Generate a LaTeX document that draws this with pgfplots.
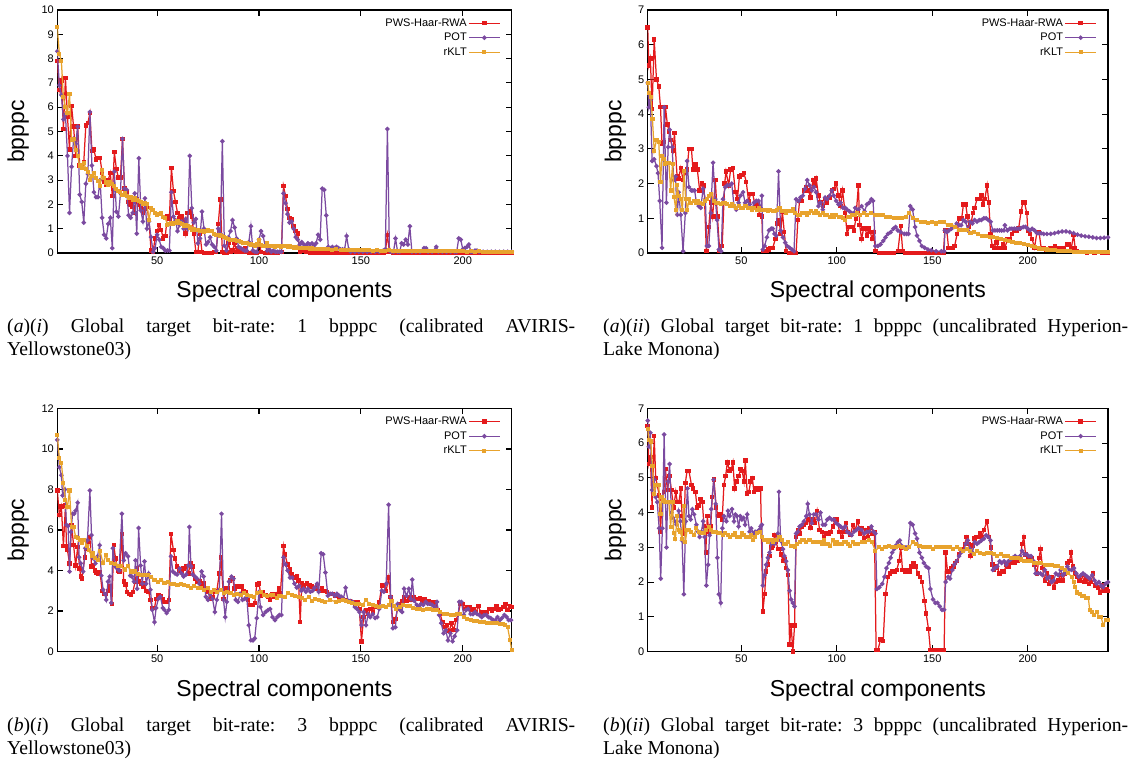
\documentclass[border=0pt]{standalone}
\usepackage{fontspec}
\setmainfont{Liberation Serif}
\setsansfont{Liberation Sans}
\usepackage{pgfplots}
\pgfplotsset{compat=1.18}
\frenchspacing
\definecolor{cred}{RGB}{228,26,28}
\definecolor{cpur}{RGB}{123,74,160}
\definecolor{corg}{RGB}{232,163,45}
\pgfplotsset{
  panel/.style={
    scale only axis, anchor=south west, ymin=0,
    tick align=inside, major tick length=6pt,
    xtick={50,100,150,200},
    axis line style={line width=1.2pt},
    major tick style={line width=1.1pt,black},
    tick label style={font=\sffamily\fontsize{11}{13}\selectfont},
    /pgf/number format/assume math mode=true,
    label style={font=\sffamily\fontsize{23}{26}\selectfont},
    xlabel={Spectral components}, ylabel={bpppc},
    x label style={at={(axis description cs:0.5,-0.185)},anchor=base},
    clip mode=individual,
    legend style={draw=none, fill=none, font=\sffamily\fontsize{11}{13}\selectfont,
      at={(rel axis cs:1,1)}, anchor=north east, xshift=-9pt, yshift=-4.5pt,
      inner sep=2pt, row sep=1.5pt,
      nodes={inner sep=1.5pt, text height=8pt, text depth=2pt}},
    legend plot pos=right, legend cell align=right,
    legend image code/.code={\draw[mark repeat=2,mark phase=2,##1] plot coordinates {(0pt,0pt) (15.5pt,0pt) (31pt,0pt)};},
  },
  pws/.style={cred, line width=1.25pt, mark=square*, mark size=1.6pt},
  pot/.style={cpur, line width=1.25pt, mark=*, mark size=1.6pt},
  rklt/.style={corg, line width=1.25pt, mark=square*, mark size=1.4pt},
}
\begin{document}
\begin{tikzpicture}
\useasboundingbox (0,0) rectangle (1133pt,771pt);
% ---------------- (a)(i)
\begin{axis}[panel, at={(57.3pt,518pt)}, width=454.4pt, height=243pt,
  xmin=1, xmax=224, ymax=10, ytick={0,1,...,10},
  y label style={at={(axis description cs:-0.086,0.5)},anchor=center}]
\addplot[pws] coordinates {(1,7.9)(2,6.7)(3,7.1)(4,5.1)(5,7.2)(6,5.6)(7,4.25)(8,6.05)(9,5.2)(10,4.0)(11,5.2)(12,3.6)(13,3.6)(14,3.75)(15,5.25)(16,5.35)(17,5.75)(18,4.2)(19,4.25)(20,3.85)(21,3.9)(22,3.9)(23,3.3)(24,2.95)(25,2.8)(26,3.0)(27,3.3)(28,2.35)(29,4.15)(30,3.45)(31,3.1)(32,3.1)(33,4.7)(34,2.65)(35,2.5)(36,2.1)(37,2.0)(38,1.9)(39,1.65)(40,2.2)(41,2.0)(42,1.85)(43,1.65)(44,1.8)(45,1.9)(46,1.35)(47,0.1)(48,0.05)(49,0.6)(50,0.9)(51,1.15)(52,0.95)(53,0.6)(54,0.7)(55,1.5)(56,1.4)(57,3.5)(58,2.55)(59,2.1)(60,1.65)(61,1.45)(62,1.5)(63,1.3)(64,0.8)(65,1.65)(66,1.7)(67,1.5)(68,0.8)(69,0.05)(70,0.05)(71,0.8)(72,0.05)(73,0)(74,0)(75,0)(76,0)(77,0)(78,0.05)(79,0.05)(80,1.2)(81,2.2)(82,0.05)(83,0)(84,0)(85,0.4)(86,0.05)(87,0.1)(88,0.4)(89,0.05)(90,0.2)(91,0.05)(92,0.05)(93,0.2)(94,0.05)(95,0)(96,0)(97,0.05)(98,0)(99,0)(100,0.45)(101,0.05)(103,0)(105,0)(107,0)(109,0)(111,0.05)(112,2.75)(113,2.35)(114,1.8)(115,1.45)(116,1.4)(117,1.1)(118,0.9)(119,0.8)(120,0.05)(121,0.2)(122,0.1)(123,0.05)(125,0)(127,0)(129,0)(131,0)(133,0)(135,0)(137,0)(139,0)(141,0)(143,0)(145,0)(147,0)(149,0)(151,0)(153,0)(155,0)(157,0)(159,0)(161,0)(162,0.05)(163,0.75)(164,0.05)(166,0)(168,0)(170,0)(172,0)(174,0)(176,0)(178,0)(180,0)(182,0)(184,0)(186,0)(188,0)(190,0)(192,0)(194,0)(196,0)(198,0)(200,0)(202,0)(204,0)(206,0)(208,0)(210,0)(212,0)(214,0)(216,0)(218,0)(220,0)(222,0)(224,0)};
\addlegendentry{PWS-Haar-RWA}
\addplot[pot] coordinates {(1,8.3)(2,6.9)(3,6.5)(4,5.5)(5,5.7)(6,4.0)(7,1.65)(8,3.55)(9,4.7)(10,4.5)(11,5.2)(12,2.4)(13,2.1)(14,1.25)(15,2.85)(16,3.25)(17,5.8)(18,3.6)(19,2.5)(20,2.3)(21,2.3)(22,3.0)(23,1.45)(24,0.75)(25,0.6)(26,1.2)(27,1.45)(28,0.2)(29,3.35)(30,1.7)(31,1.5)(32,2.45)(33,4.7)(34,2.65)(35,2.6)(36,1.55)(37,1.45)(38,1.65)(39,2.45)(40,0.8)(41,3.9)(42,1.75)(43,1.3)(44,2.25)(45,1.0)(46,1.3)(47,0.65)(48,0.05)(49,0.2)(50,0.75)(51,0.55)(52,0.25)(53,0.2)(54,0.1)(55,0.1)(56,0.1)(57,2.5)(58,1.5)(59,1.35)(60,0.9)(61,1.15)(62,1.3)(63,1.0)(64,1.4)(65,1.0)(66,4.0)(67,1.85)(68,1.25)(69,1.4)(70,0.4)(71,0.6)(72,1.7)(73,1.0)(74,0.35)(75,0.45)(76,0.65)(77,0.35)(78,0.25)(79,0.1)(80,1.0)(81,0.8)(82,4.6)(83,0.3)(84,0.1)(85,0.65)(86,0.9)(87,1.35)(88,1.05)(89,0.6)(90,0.25)(91,0.2)(92,0.15)(93,0.1)(94,0.1)(95,0.45)(96,1.1)(97,0.1)(98,0.05)(99,0.05)(100,0.55)(101,0.9)(102,0.7)(103,0.3)(104,0.1)(105,0.15)(106,0.05)(107,0.1)(108,0.05)(109,0.05)(110,0.05)(111,0.05)(112,2.45)(113,2.05)(114,1.6)(115,1.25)(116,1.3)(117,1.0)(118,0.65)(119,0.55)(120,0.35)(121,0.45)(122,0.35)(123,0.3)(124,0.4)(125,0.35)(126,0.4)(127,0.3)(128,0.4)(129,0.75)(130,0.55)(131,2.65)(132,2.6)(133,1.55)(134,0.25)(135,0.2)(136,0.25)(137,0.2)(138,0.25)(139,0.2)(140,0.15)(141,0.15)(142,0.15)(143,0.7)(144,0.15)(145,0.05)(147,0.05)(149,0.05)(151,0.05)(153,0.05)(155,0.05)(157,0.05)(159,0.05)(161,0.1)(162,0.15)(163,5.1)(164,0.1)(165,0.05)(166,0.05)(167,0.6)(168,0.05)(169,0.05)(170,0.4)(171,0.35)(172,0.55)(173,0.35)(174,1.1)(175,0.05)(177,0.05)(179,0.05)(181,0.2)(182,0.2)(183,0.05)(185,0.05)(187,0.25)(188,0.05)(190,0.05)(192,0.05)(194,0.05)(196,0.05)(197,0.05)(198,0.6)(199,0.55)(200,0.15)(201,0.2)(202,0.25)(203,0.35)(204,0.05)(205,0.05)(206,0.1)(207,0.1)(208,0.05)(210,0.05)(212,0.05)(214,0.05)(216,0.05)(218,0.05)(220,0.05)(222,0.05)(224,0.05)};
\addlegendentry{POT}
\addplot[rklt] coordinates {(1,9.3)(2,8.2)(3,7.9)(4,6.4)(5,6.0)(6,5.75)(7,6.55)(8,4.65)(9,4.7)(10,4.25)(11,4.0)(12,3.6)(13,3.5)(14,3.7)(15,3.45)(16,3.35)(17,3.0)(18,3.15)(19,3.3)(20,3.1)(21,2.95)(22,2.75)(23,3.4)(24,3.1)(25,2.9)(26,2.8)(27,2.9)(28,2.85)(29,2.75)(30,2.65)(31,2.55)(32,2.5)(33,2.4)(34,2.45)(35,2.35)(36,2.25)(37,2.3)(38,2.2)(39,2.25)(40,2.2)(41,2.15)(42,2.1)(43,2.0)(44,2.05)(45,2.0)(46,1.35)(47,1.85)(48,1.75)(49,1.65)(50,1.55)(51,1.6)(52,1.65)(53,1.5)(54,1.45)(55,1.15)(56,1.2)(57,1.25)(58,1.2)(59,1.25)(60,1.3)(61,1.25)(62,1.2)(63,1.1)(64,1.15)(65,1.1)(66,1.05)(67,0.95)(68,1.0)(69,0.95)(70,0.95)(71,0.9)(72,0.92)(73,0.88)(74,0.9)(75,0.95)(76,0.9)(77,0.9)(78,0.8)(79,0.75)(80,0.75)(81,0.72)(82,0.7)(83,0.65)(84,0.62)(85,0.58)(86,0.55)(87,0.55)(88,0.52)(89,0.5)(90,0.48)(91,0.45)(92,0.4)(93,0.42)(94,0.4)(95,0.37)(96,0.35)(97,0.33)(98,0.3)(99,0.35)(100,0.55)(101,0.32)(102,0.3)(103,0.3)(104,0.4)(105,0.28)(106,0.3)(107,0.27)(108,0.25)(109,0.3)(110,0.28)(111,0.25)(112,0.3)(113,0.28)(114,0.25)(115,0.3)(116,0.25)(117,0.22)(118,0.25)(119,0.22)(120,0.2)(121,0.22)(122,0.2)(123,0.22)(124,0.2)(125,0.18)(126,0.2)(127,0.18)(128,0.17)(129,0.18)(130,0.16)(132,0.15)(134,0.16)(136,0.14)(138,0.15)(140,0.14)(142,0.13)(144,0.14)(146,0.12)(148,0.13)(150,0.12)(152,0.11)(154,0.12)(156,0.1)(158,0.11)(160,0.1)(162,0.1)(164,0.11)(166,0.09)(168,0.1)(170,0.09)(172,0.1)(174,0.09)(176,0.09)(178,0.08)(180,0.09)(182,0.08)(184,0.09)(186,0.08)(188,0.08)(190,0.07)(192,0.08)(194,0.07)(196,0.08)(198,0.07)(200,0.07)(202,0.06)(204,0.07)(206,0.06)(208,0.07)(210,0.06)(212,0.06)(214,0.06)(216,0.05)(218,0.06)(220,0.05)(222,0.05)(224,0.05)};
\addlegendentry{rKLT}
\end{axis}
% ---------------- (a)(ii)
\begin{axis}[panel, at={(647.7pt,518pt)}, width=460.3pt, height=243pt,
  xmin=1, xmax=242, ymax=7, ytick={0,1,...,7},
  y label style={at={(axis description cs:-0.07,0.5)},anchor=center}]
\addplot[pws] coordinates {(1,6.5)(1.6,5.4)(2.4,5.6)(3.3,4.15)(4.4,6.15)(5.6,5.0)(6.8,4.8)(7.7,4.2)(8.5,3.15)(9.4,3.2)(10.3,4.2)(11.3,3.7)(12.2,3.5)(13,3.25)(14.3,2.95)(15,3.45)(16.4,2.2)(17.2,2.15)(18.3,2.45)(19.5,2.1)(20.7,2.3)(21.6,2.4)(22.6,3.0)(23.9,3.0)(24.7,2.4)(26,2.55)(27,2.4)(28.2,1.8)(29.4,2.0)(30.5,1.95)(31.7,0.05)(33,0.75)(34,1.45)(35,1.05)(36.4,2.1)(37.5,1.05)(38.7,0.05)(40,0.2)(41.3,2.0)(42,2.35)(43.4,1.95)(44.4,2.4)(45.6,2.45)(46.9,1.75)(48,1.55)(49,2.2)(50,2.25)(51.4,2.3)(52.6,2.05)(53.8,1.5)(54.9,1.7)(56,1.7)(57.3,1.35)(58.4,1.4)(59.6,1.1)(60.8,1.05)(61.3,0.05)(62.5,0.05)(63.5,0.05)(64.3,0.1)(65.3,0.15)(66.5,0.15)(67.8,0.4)(68.8,0.85)(69.8,0.95)(70.6,0.55)(71.5,1.2)(72.5,0.6)(73.5,0.05)(75,0)(76.5,0)(77.5,0)(78.7,0)(79.6,0.95)(80.5,1.5)(81.6,1.5)(82.8,1.8)(84,1.9)(85.2,1.8)(86.2,1.6)(87.5,2.1)(88.4,1.95)(89.2,2.15)(90.4,1.65)(91.5,1.45)(92.8,1.35)(94,1.55)(95,1.45)(96.2,1.6)(97.4,1.8)(98.5,1.85)(99.7,2.0)(100.9,1.65)(102,1.35)(103,1.8)(104.4,1.15)(105.4,0.55)(106.6,0.75)(107.8,0.75)(109,0.65)(110,1.0)(111.3,1.95)(112,0.8)(113,0.4)(114,0.7)(114.9,0.7)(115.8,0.5)(116.7,0.7)(117.6,0.6)(118.4,0.4)(119.3,0.6)(120.2,0.05)(122,0)(124,0)(126,0)(128,0)(130,0)(132,0.05)(133.5,0.77)(134.5,0.05)(136,0)(138,0)(140,0)(142,0)(144,0)(146,0)(148,0)(150,0)(152,0)(154,0)(155.8,0)(156.6,0.65)(157.6,0.65)(158.5,0.15)(159.5,0.15)(160.5,0.15)(161.7,0.2)(163,0.55)(164,1.0)(165.4,1.0)(166.3,1.4)(167.5,1.4)(168.4,1.05)(169.3,0.75)(170.4,0.9)(171.3,1.15)(172.2,1.3)(173.4,1.55)(174.6,1.55)(175.7,1.65)(176.6,1.4)(177.5,1.55)(178.7,1.95)(179.6,1.45)(180.5,0.55)(181.4,0.2)(182.3,0.15)(183.5,0.3)(184.6,0.15)(185.8,0.15)(187,0.25)(188,0.15)(189.4,0.4)(190.6,0.4)(191.7,0.55)(192.9,0.65)(194,0.65)(195.2,0.7)(196.5,1.2)(197.4,1.45)(198.3,1.45)(199.5,1.15)(200,0.65)(201.2,0.55)(202.3,0.4)(203.5,0.15)(204.8,0.6)(205.9,0.6)(207,0.15)(208.3,0.15)(209.4,0.1)(210.6,0.1)(211.8,0.15)(213.3,0.1)(214.2,0.2)(215.4,0.15)(216.8,0.15)(217.7,0.1)(218.9,0.15)(220.4,0.25)(221.6,0.25)(222.8,0.15)(224,0.52)(224.8,0.15)(225.7,0.05)(227,0.03)(229,0.03)(231,0.02)(233,0.03)(235,0.02)(237,0.03)(239,0.02)(241,0.02)(242,0.02)};
\addlegendentry{PWS-Haar-RWA}
\addplot[pot] coordinates {(1,4.9)(1.6,4.2)(2.4,4.4)(3.3,2.65)(4.4,2.7)(5.6,2.5)(6.4,2.3)(7.3,1.5)(8.5,0.15)(9.6,4.2)(10.8,1.45)(11.7,3.05)(12.5,3.55)(13.8,3.05)(14.6,2.1)(15.5,2.2)(16.5,1.1)(17.2,1.75)(18.3,1.1)(19.5,0.05)(20.7,1.15)(21.6,2.65)(22.6,1.9)(23.9,1.8)(24.7,1.8)(25.6,1.8)(26.5,1.45)(27.7,1.35)(28.8,1.3)(30,1.85)(31.2,1.55)(32,0.2)(33,0.2)(34,1.15)(35.2,2.6)(36.4,1.55)(37.3,0.95)(38.3,0.1)(39.5,0.05)(40.4,1.55)(41.6,1.9)(42.7,1.95)(43.9,1.95)(45,2.0)(46.2,1.35)(47.4,1.25)(48.6,1.45)(49.6,1.65)(50.9,1.75)(52,1.45)(53.1,1.5)(54.4,1.4)(55.6,1.25)(56.6,1.45)(57.8,1.5)(59,1.5)(60.1,1.25)(60.8,1.65)(61.3,0.1)(62.2,0.2)(63.4,0.45)(64.5,0.65)(65.7,0.7)(66.5,0.7)(67.4,0.55)(68.3,0.5)(69.5,2.35)(70.6,0.65)(71.8,0.45)(73,0.3)(74,0.2)(75.3,0.15)(76.5,0.1)(77.6,0.05)(78.7,1.55)(80,1.5)(81,1.6)(82.2,1.65)(83.4,1.85)(84.5,2.1)(85.7,1.95)(86.9,1.8)(88,1.9)(89.2,1.75)(90.4,1.35)(91.5,1.45)(92.7,1.25)(93.9,1.6)(95,1.55)(96.2,1.65)(97.4,1.8)(98.4,1.65)(99.7,1.5)(100.9,1.4)(102,1.45)(103.2,1.3)(104.4,1.3)(105.4,1.25)(106.6,1.2)(107.8,1.15)(109,1.15)(109.6,1.3)(111.3,1.25)(113,1.35)(114.5,1.2)(115.8,1.4)(117,1.45)(118.1,1.55)(119,1.5)(120.2,0.2)(121.5,0.2)(122.9,0.25)(124.3,0.35)(125.5,0.45)(126.8,0.55)(128.2,0.6)(129.6,0.7)(130.8,0.75)(132,0.65)(133.5,0.6)(135.3,0.55)(136.5,0.55)(137.5,0.55)(138.5,1.35)(139.7,1.25)(141,0.75)(142,0.5)(143.3,0.35)(144.5,0.2)(146,0.15)(147.7,0.1)(149.5,0.08)(152,0.05)(154.8,0.05)(156.2,0.05)(156.6,0.65)(157.7,0.6)(158.7,0.65)(160,0.7)(161.3,0.75)(162.8,0.85)(164,0.8)(165.1,0.8)(166.3,0.95)(167.5,0.9)(168.6,0.65)(169.8,0.9)(171,0.85)(172.2,0.95)(173.4,0.9)(174.6,0.95)(175.7,0.95)(177,1.0)(178.2,1.0)(179.3,0.95)(180.5,0.9)(181.7,0.65)(182.8,0.65)(184,0.65)(185.2,0.65)(186.3,0.65)(187.5,0.65)(188,0.8)(189.4,0.65)(190.6,0.7)(191.7,0.7)(192.9,0.7)(194.1,0.7)(195.3,0.7)(196.5,0.72)(197.7,0.75)(198.8,0.75)(200,0.7)(201.2,0.65)(202.3,0.7)(203.5,0.65)(204.8,0.57)(205.9,0.57)(207,0.57)(208.3,0.55)(210,0.55)(212,0.55)(214,0.57)(216,0.6)(218,0.62)(220,0.62)(222,0.6)(224,0.57)(226,0.53)(228,0.5)(230,0.48)(232,0.47)(234,0.45)(236,0.43)(238,0.43)(240,0.44)(242,0.45)};
\addlegendentry{POT}
\addplot[rklt] coordinates {(1,4.9)(1.7,4.6)(2.6,4.5)(3.5,3.85)(4.4,2.95)(5.6,3.25)(6.8,3.2)(7.7,2.05)(8.5,2.8)(9.4,2.7)(10.3,2.55)(11.3,2.6)(12.1,2.6)(13,1.8)(14,2.55)(14.8,1.6)(15.7,1.25)(16.5,1.95)(17.2,1.65)(18.3,1.55)(19.2,1.25)(19.9,2.35)(20.9,1.55)(21.8,1.25)(22.6,1.55)(23.9,1.45)(25,1.5)(26.2,1.45)(27.4,1.5)(28.6,1.45)(29.8,1.4)(31,1.5)(32.2,1.55)(33.2,1.65)(34.3,1.7)(35.5,1.5)(36.7,1.45)(38,1.45)(39.2,1.4)(40.3,1.45)(41.5,1.45)(42.7,1.4)(43.9,1.35)(45,1.4)(46.2,1.35)(47.4,1.3)(48.6,1.35)(49.8,1.3)(51,1.3)(52.2,1.35)(53.3,1.3)(54.5,1.3)(55.7,1.25)(56.9,1.3)(58.1,1.25)(59.3,1.3)(60.4,1.25)(61.6,1.25)(62.8,1.25)(64,1.2)(65.2,1.25)(66.4,1.2)(67.6,1.2)(68.8,1.25)(70,1.3)(71.2,1.2)(72.4,1.2)(73.5,1.15)(74.7,1.2)(75.9,1.2)(77.1,1.27)(78.3,1.15)(79.5,1.1)(80.7,1.1)(81.9,1.15)(83.1,1.15)(84.3,1.1)(85.5,1.15)(86.7,1.2)(87.9,1.15)(89,1.2)(90.2,1.15)(91.4,1.1)(92.6,1.15)(93.8,1.1)(95,1.1)(96.2,1.05)(97.4,1.1)(98.6,1.05)(99.8,1.1)(101,1.05)(102.2,1.05)(103.4,1.0)(104.5,0.95)(105.7,1.05)(106.9,1.05)(108.1,1.1)(109.3,1.1)(110.5,1.15)(112,1.1)(114,1.15)(116,1.1)(118,1.15)(120,1.1)(122,1.1)(124,1.1)(126,1.05)(128,1.05)(130,1.0)(132,1.0)(134,1.0)(136,1.05)(138,1.15)(140,1.0)(142,0.95)(144,0.9)(146,0.9)(148,0.86)(150,0.88)(152,0.85)(154,0.88)(156,0.9)(158,0.8)(160,0.8)(162,0.75)(164,0.67)(166,0.67)(168,0.67)(170,0.57)(172,0.6)(174,0.55)(176,0.5)(178,0.48)(180,0.47)(182,0.46)(184,0.43)(186,0.4)(188,0.38)(190,0.35)(192,0.33)(194,0.3)(196,0.28)(198,0.26)(200,0.24)(202,0.2)(204,0.16)(206,0.13)(208,0.11)(210,0.1)(212,0.09)(214,0.08)(216,0.07)(218,0.06)(220,0.05)(222,0.05)(224,0.04)(226,0.04)(228,0.03)(230,0.03)(232,0.03)(234,0.02)(236,0.02)(238,0.02)(240,0.02)(242,0.02)};
\addlegendentry{rKLT}
\end{axis}
% ---------------- (b)(i)
\begin{axis}[panel, at={(57.3pt,119.5pt)}, width=454.4pt, height=243pt,
  xmin=1, xmax=224, ymax=12, ytick={0,2,...,12},
  y label style={at={(axis description cs:-0.086,0.5)},anchor=center}]
\addplot[pws] coordinates {(1,7.95)(2,6.75)(3,7.15)(4,5.2)(5,7.2)(5.5,5.2)(6,5.0)(7,4.35)(8,6.25)(9,5.25)(10,4.25)(11,5.15)(12,4.1)(12.5,3.7)(13,3.6)(14.5,4.65)(15,5.05)(16,5.4)(17,5.65)(17.8,4.2)(18.6,4.25)(19.4,4.0)(20.2,3.9)(21,3.85)(22,3.9)(23,3.0)(24,2.85)(25,2.85)(26,3.0)(26.8,3.2)(27.8,2.35)(28.7,5.25)(29.6,4.6)(30.8,4.0)(31.6,3.95)(32.7,5.8)(33.6,3.45)(34.5,3.3)(35.3,2.95)(36.5,2.85)(37.3,2.8)(38.1,2.95)(39.2,3.45)(40.2,4.1)(41,3.45)(42.2,3.35)(43,3.2)(43.8,3.35)(44.6,3.0)(45.8,2.95)(46.7,2.55)(47.6,2.15)(48.7,2.15)(49.5,2.6)(50.6,2.8)(51.6,2.75)(52.8,2.6)(53.6,2.45)(54.7,2.45)(55.7,2.55)(56.8,5.8)(58,5.0)(58.8,4.6)(59.8,4.2)(61,4.0)(62,4.0)(63,4.1)(64.2,4.2)(65.3,3.85)(66.3,4.35)(67.4,4.2)(68.6,3.6)(69.5,3.45)(70.7,3.45)(71.8,3.2)(72.8,3.35)(73.9,3.1)(75,2.95)(76,2.6)(77.2,2.7)(78.3,2.95)(79.3,3.0)(80.5,3.85)(81.3,4.65)(82.6,2.6)(83.7,3.1)(84.8,3.1)(85.8,3.5)(87,3.6)(88,3.1)(89,3.2)(90.2,3.2)(91.4,3.2)(92.3,3.0)(93.5,2.95)(94.6,2.55)(95.6,2.3)(96.8,2.3)(97.9,2.4)(98.9,3.3)(100,3.35)(101,2.75)(102,2.95)(103.3,2.8)(104.4,2.7)(105.4,2.55)(106.5,2.85)(107.5,2.7)(108.6,2.85)(109.8,3.1)(110.5,2.9)(112,5.2)(112.7,4.8)(114,4.3)(115.2,4.05)(116,3.8)(117.2,3.65)(118.5,3.7)(119.4,3.5)(120.2,1.45)(121,3.35)(122.2,3.25)(123.5,3.35)(124.8,3.25)(126,3.2)(127.2,3.1)(128.5,3.2)(129.7,3.0)(131,3.1)(132.2,3.0)(133.4,2.95)(134.6,2.85)(136,2.85)(137.2,2.75)(138.4,2.75)(139.6,2.7)(141,2.6)(142.2,2.55)(143.4,2.5)(144.6,2.5)(145.9,2.45)(147,2.35)(148.3,2.45)(149.2,2.1)(150.3,0.5)(151.3,1.7)(152.5,2.05)(153.6,1.85)(154.6,2.1)(155.8,1.95)(157,2.2)(158,2.2)(159,2.45)(160.3,3.25)(161.3,3.25)(162.4,3.0)(163.6,3.65)(164.6,2.7)(165.7,1.45)(166.9,1.6)(168,2.1)(169,2.35)(170.2,2.5)(171.2,2.7)(172.4,2.5)(173.5,2.7)(174.5,2.55)(175.7,2.7)(176.8,2.6)(177.8,2.6)(179,2.65)(180.1,2.5)(181.2,2.6)(182.3,2.5)(183.4,2.5)(184.4,2.35)(185.6,2.45)(186.8,2.35)(187.7,2.05)(188.9,1.85)(190,1.45)(191,1.2)(192.2,1.3)(193.4,1.0)(194.4,1.4)(195.5,1.05)(196.7,1.55)(197.7,1.85)(198.8,2.35)(200,2.35)(201,2.1)(202.2,2.2)(203.3,2.2)(204.3,2.05)(205.5,2.1)(206.6,1.95)(207.6,2.25)(208.8,1.95)(210,1.85)(211,1.95)(212,1.95)(213.2,2.1)(214.3,2.0)(215.4,2.1)(216.5,2.25)(217.5,2.05)(218.7,2.1)(219.9,2.2)(220.9,2.35)(222,2.05)(223.2,2.25)(224,2.2)};
\addlegendentry{PWS-Haar-RWA}
\addplot[pot] coordinates {(1,10.45)(2,9.1)(3,8.7)(3.6,7.7)(4.7,8.0)(5.5,6.25)(6.3,6.2)(7,3.95)(7.7,5.9)(8.5,6.8)(9.3,6.8)(10,6.95)(11,7.35)(11.7,4.65)(12.5,4.35)(13.7,3.95)(14.8,5.1)(15.8,5.5)(17,7.95)(17.8,5.75)(18.6,4.6)(19.7,4.35)(20.7,4.7)(21.8,5.25)(22.6,3.75)(23.5,3.05)(24.3,2.85)(25,2.55)(25.9,3.45)(26.7,3.7)(27.5,2.4)(28.3,5.1)(29.5,4.2)(30.3,4.1)(31.3,4.0)(32.7,6.8)(33.6,4.5)(34.5,4.85)(35.7,4.7)(36.8,3.75)(37.6,3.7)(38.6,3.45)(39.4,4.5)(40.2,3.1)(40.9,6.1)(41.9,4.25)(42.7,3.35)(43.8,4.45)(44.6,3.35)(45.8,3.85)(46.7,3.05)(47.6,2.05)(48.7,1.45)(49.5,2.15)(50.6,2.6)(51.6,2.7)(52.8,2.15)(53.6,2.05)(54.7,1.9)(55.7,2.05)(56.8,4.7)(57.7,3.95)(58.8,3.85)(59.8,3.8)(61,4.1)(62,3.85)(63,3.7)(64.2,3.8)(65.3,4.25)(65.8,6.15)(66.6,4.2)(67.4,3.8)(68.6,3.7)(69.5,3.6)(70.7,3.35)(71.8,3.95)(72.8,3.7)(73.9,2.7)(75,2.55)(76,2.85)(77.2,2.6)(78.3,1.95)(79.3,2.55)(80.5,3.05)(81.6,6.8)(82.6,2.55)(83.4,1.7)(84.2,2.45)(85.3,3.45)(86.5,3.7)(87.5,3.6)(88.6,2.55)(89.7,2.45)(90.7,2.85)(91.9,2.55)(93,2.6)(94,2.7)(95,1.3)(96,0.55)(97,0.55)(97.9,0.65)(98.9,1.65)(100,2.95)(100.7,2.2)(102,1.8)(103.2,1.95)(104.5,2.05)(105.5,2.1)(106.6,1.7)(107.8,1.55)(109,1.7)(110,1.8)(111,1.8)(112,4.65)(113,4.3)(114,4.0)(115.2,3.65)(116.3,3.65)(117.4,3.35)(118.5,3.15)(119.7,3.25)(120.8,3.0)(121.9,3.1)(123,2.95)(124,3.1)(125.2,2.95)(126.3,3.0)(127.3,3.15)(128.5,3.35)(129.3,2.95)(130.5,4.85)(131.5,4.8)(132.6,3.9)(133.8,2.75)(134.9,2.85)(136,2.85)(137.2,2.75)(138.2,2.85)(139.3,2.75)(140.4,2.7)(141.4,2.6)(142.5,3.15)(143.7,2.5)(144.7,2.5)(145.9,2.45)(147,2.2)(148.1,2.1)(149.2,1.95)(150.3,1.3)(151.3,1.95)(152.5,1.3)(153.6,1.85)(154.6,1.7)(155.8,1.85)(157,1.65)(158,1.7)(159,2.1)(160.3,3.0)(161.3,2.95)(162.4,3.35)(163.6,7.25)(164.6,2.7)(165.7,1.15)(166.9,1.2)(168,2.35)(169.2,2.05)(170.2,1.95)(171.2,3.1)(172.4,2.75)(173.5,3.1)(174.5,2.6)(175.2,3.55)(176.2,2.5)(177.4,2.3)(178.5,2.2)(179.5,2.35)(180.6,2.3)(181.8,2.45)(182.8,2.35)(184,2.35)(185,2.3)(186.2,2.2)(187.3,2.45)(188.4,1.8)(189.4,1.4)(190.6,0.9)(191.7,1.05)(192.7,0.55)(193.9,0.9)(195,0.5)(196,0.75)(197.2,1.05)(198.3,2.45)(199.3,2.45)(200.5,1.8)(201.6,2.05)(202.6,2.1)(203.8,1.85)(205,1.85)(206,1.95)(207,1.85)(208.2,1.8)(209.3,1.7)(210.4,1.8)(211.6,1.8)(212.6,1.7)(213.7,1.65)(214.9,1.55)(216,1.55)(217,1.7)(218.2,1.55)(219.2,1.65)(220.4,1.8)(221.5,1.7)(222.5,1.55)(223.7,1.55)};
\addlegendentry{POT}
\addplot[rklt] coordinates {(1,10.7)(2,9.55)(3,9.3)(4,8.3)(5,7.5)(6,7.15)(7,7.95)(8,6.15)(9,6.15)(10,5.65)(11,5.6)(12,5.5)(13,5.35)(14.3,5.5)(15.6,5.2)(16.6,5.0)(17.8,4.7)(18.6,4.85)(19.7,4.6)(21,4.5)(22,4.95)(23.5,4.35)(24.8,4.75)(26,4.5)(27.5,4.35)(29.2,4.3)(30.8,4.2)(32.4,4.2)(34,4.05)(35.7,4.2)(37.3,3.95)(39,3.95)(40.6,3.85)(42.2,3.8)(43.8,3.8)(45.4,3.8)(47,3.7)(48.7,3.55)(50.3,3.45)(52,3.55)(53.6,3.4)(55.2,3.45)(56.8,3.35)(58.5,3.35)(60,3.3)(61.7,3.35)(63.3,3.3)(65,3.25)(66.6,3.15)(68.2,3.25)(69.9,3.15)(71.5,3.15)(73.1,3.05)(74.8,3.15)(76.4,2.95)(78,3.05)(79.6,2.95)(81.3,3.05)(82.9,2.9)(84.5,2.95)(86,2.9)(87.8,2.8)(89.4,2.85)(91,2.8)(92.7,2.9)(94.3,2.8)(96,2.75)(97.6,2.7)(99,2.9)(100.8,2.95)(102.4,2.8)(104,2.75)(105.7,2.8)(107,2.8)(108.7,2.65)(110,2.75)(111,2.75)(112.7,2.7)(114.4,2.9)(116,2.8)(117.7,2.75)(119.4,2.7)(121,2.65)(122.7,2.55)(124.3,2.7)(126,2.5)(127.7,2.6)(129.3,2.55)(131,2.5)(132.6,2.45)(135,2.55)(137.6,2.45)(139.3,2.5)(141,2.55)(142.6,2.5)(144,2.45)(145.8,2.4)(147.5,2.35)(149.2,2.35)(150.8,2.3)(152.5,2.55)(154.2,2.35)(155.8,2.3)(157.5,2.25)(159,2.2)(160.8,2.25)(162.4,2.2)(163.7,2.3)(165,2.5)(166.2,2.25)(167.4,2.1)(169,2.2)(170.7,2.3)(172.4,2.25)(174,2.25)(175.7,2.15)(177.3,2.1)(179,2.1)(180.6,2.05)(182.3,2.1)(184,2.1)(185.6,2.05)(187.3,2.05)(189,1.95)(190.6,1.85)(192.3,1.85)(194,1.8)(195.6,1.8)(197.2,1.85)(198.8,1.85)(200.5,1.7)(202.2,1.6)(203.8,1.55)(205.4,1.5)(207,1.5)(208.7,1.48)(210.4,1.45)(212,1.43)(213.7,1.4)(215.3,1.4)(217,1.4)(218.3,1.38)(219.5,1.35)(220.8,1.3)(222,1.2)(223.2,0.55)(224,0.08)};
\addlegendentry{rKLT}
\end{axis}
% ---------------- (b)(ii)
\begin{axis}[panel, at={(647.7pt,119.5pt)}, width=460.3pt, height=243pt,
  xmin=1, xmax=242, ymax=7, ytick={0,1,...,7},
  y label style={at={(axis description cs:-0.07,0.5)},anchor=center}]
\addplot[pws] coordinates {(1,6.5)(1.6,5.4)(2.4,5.6)(3.3,4.15)(4.4,6.2)(5.2,5.0)(6,4.8)(7,4.5)(7.7,3.45)(8.5,4.4)(9.4,4.6)(10.3,5.25)(11.3,4.65)(12.5,5.05)(13.4,4.65)(14.6,4.15)(15.7,4.6)(16.5,4.3)(17.4,4.3)(18.3,4.7)(19,3.9)(19.9,3.4)(20.7,4.85)(21.6,5.2)(22.6,5.2)(23.9,4.8)(24.7,4.7)(26,4.6)(26.8,4.15)(27.7,4.2)(28.7,4.4)(29.6,4.3)(30.5,3.6)(31.4,2.85)(32.2,3.9)(33,3.45)(34,3.6)(34.8,4.45)(35.7,4.95)(36.9,4.15)(37.8,3.9)(39,3.95)(40,3.8)(40.9,4.8)(41.8,5.05)(42.7,5.45)(43.9,5.2)(44.8,5.25)(45.6,5.45)(46.5,4.7)(47.4,4.9)(48.6,5.05)(49.7,5.25)(50.5,5.2)(51.4,4.9)(52.1,5.5)(53.1,4.55)(54,4.6)(54.9,4.9)(55.8,5.0)(56.6,4.6)(57.5,4.7)(58.4,4.65)(59.3,4.7)(60.1,4.7)(61.3,1.15)(62.2,1.65)(63,2.3)(63.9,2.5)(64.8,2.75)(65.7,3.0)(66.5,3.05)(67.4,3.35)(68.3,3.15)(69.2,2.95)(70,2.95)(70.9,2.8)(71.8,2.6)(72.6,2.65)(73.5,2.4)(74.4,2.2)(75.3,0.2)(76.1,0.75)(77,0)(77.9,0.75)(78.7,3.3)(79.6,3.5)(80.5,3.4)(81.7,3.6)(82.8,3.65)(84,3.7)(85.2,3.8)(86.2,3.55)(87.5,3.8)(88.7,3.7)(89.7,4.05)(91,3.5)(92.2,3.45)(93.2,3.3)(94.4,3.4)(95.6,3.4)(96.6,3.45)(97.9,3.6)(99.1,3.8)(100.2,3.8)(101.4,3.45)(102.6,3.3)(103.6,3.45)(104.9,3.7)(106,3.45)(107.1,3.35)(108.4,3.65)(109.6,3.5)(111,3.75)(112.2,3.4)(113,3.55)(114.2,3.25)(115.2,3.5)(116.3,3.3)(117.2,3.55)(118.4,3.4)(119.7,3.45)(120.6,0.05)(121.6,0.05)(122.9,0.35)(124.3,0.3)(125.5,1.65)(126.8,2.15)(127.8,2.25)(129,2.3)(130.3,2.3)(131.4,2.35)(132.6,2.6)(133.5,3.0)(134.4,2.35)(135.6,2.3)(136.8,2.35)(138,2.3)(139.2,2.45)(140.2,2.55)(141.3,2.45)(142.4,2.25)(143.6,2.15)(144.7,2.0)(146,1.45)(146.8,1.1)(148,0.65)(149,0.05)(150.5,0.05)(152,0.05)(153.8,0.05)(155,0.05)(156.2,0.05)(157,2.85)(158,2.3)(159,2.3)(160,2.4)(161,2.45)(162,2.55)(163,2.6)(164,2.8)(165,2.95)(166,2.95)(167,3.1)(168,3.3)(169,3.1)(170,2.75)(171,3.05)(172,3.25)(173,3.3)(174,3.3)(175,3.4)(176,3.3)(177,3.5)(178.7,3.75)(179.7,3.3)(180.7,3.0)(181.5,2.5)(182.3,2.35)(183.2,2.45)(184,2.4)(185.3,2.25)(186.4,2.3)(187.6,2.3)(188.8,2.5)(190,2.45)(191,2.55)(192.2,2.6)(193.4,2.55)(194.7,2.6)(196,2.65)(197,3.1)(197.9,3.3)(198.8,2.8)(200,2.65)(201.2,2.6)(202.3,2.7)(203.5,2.5)(204.8,2.25)(205.9,2.7)(206.7,2.95)(207.7,2.4)(208.9,2.05)(210.1,2.25)(211.2,1.95)(212.4,2.15)(213.6,1.85)(214.7,2.0)(216,2.05)(217.2,2.2)(218.3,2.05)(219.5,2.25)(220.7,2.55)(221.8,2.6)(222.7,2.85)(223.6,2.45)(224.8,2.25)(226,2.15)(227,2.05)(228.3,2.2)(229.6,2.0)(230.8,2.1)(232,1.95)(233.2,2.0)(234.2,2.25)(235.5,1.9)(236.7,1.85)(237.9,1.7)(239,1.9)(240.2,1.75)(241.3,1.8)(242,1.75)};
\addlegendentry{PWS-Haar-RWA}
\addplot[pot] coordinates {(1,6.65)(1.6,5.9)(2.4,6.3)(3.3,4.65)(4.4,4.95)(5.2,4.45)(6,4.3)(7,3.55)(7.8,2.1)(8.7,3.55)(9.6,6.25)(10.8,3.0)(11.7,4.9)(12.5,5.4)(13.4,4.0)(14.3,3.85)(15.2,3.75)(16.1,3.65)(17.2,4.05)(18.1,3.75)(19,3.2)(19.9,1.65)(20.9,3.75)(21.8,4.7)(22.6,3.9)(23.5,3.8)(24.4,4.1)(25.3,3.95)(26.5,3.65)(27.4,3.45)(28.2,3.3)(29.1,3.45)(30,3.75)(30.8,3.3)(31.7,1.9)(32.6,2.5)(33.4,3.35)(34.3,4.1)(35.5,4.95)(36.6,4.25)(37.5,2.7)(38.3,1.65)(39.2,1.4)(40.1,3.55)(40.9,3.9)(42.2,3.75)(43,4.05)(43.9,3.9)(45.1,4.1)(46.2,3.75)(46.9,3.95)(47.7,3.9)(48.6,3.6)(49.5,3.9)(50.3,3.8)(51.2,3.85)(52,3.65)(53.1,3.95)(54.4,3.45)(55.2,3.55)(56.4,3.4)(57.3,3.45)(58.4,3.45)(59.3,3.5)(60.1,3.6)(60.8,3.65)(61.3,1.9)(62.2,2.2)(63,2.5)(63.9,2.7)(64.8,2.85)(65.7,3.1)(66.6,3.2)(67.4,3.1)(68.3,3.2)(69.2,3.4)(69.7,4.6)(70.6,3.2)(71.8,2.95)(72.6,2.75)(73.5,2.6)(74.4,2.35)(75.3,1.75)(76.1,1.5)(77,1.4)(77.9,1.3)(78.7,3.4)(79.6,3.45)(80.5,3.6)(81.7,3.65)(82.8,3.75)(84,3.9)(84.8,4.25)(85.7,3.95)(86.9,3.7)(88,3.95)(89.2,3.95)(90.4,3.8)(91.5,4.0)(92.7,3.65)(93.9,3.65)(95,3.8)(96.2,3.85)(97.4,3.8)(98.5,3.8)(99.7,3.7)(100.9,3.65)(102,3.6)(103.2,3.55)(104.4,3.6)(105.4,3.45)(106.6,3.4)(107.8,3.35)(109,3.45)(110.2,3.5)(111.3,3.55)(113,3.5)(114.3,3.4)(115.8,3.45)(117,3.45)(118.1,3.6)(119.3,3.45)(120.2,3.4)(121,1.8)(122.3,1.85)(123.8,1.95)(125,2.15)(126,2.4)(127.3,2.55)(128.2,2.7)(129,2.85)(130,2.95)(130.8,3.05)(132,3.15)(133,3.2)(133.9,3.05)(135,3.0)(136.2,3.0)(137.4,3.0)(138.5,3.7)(139.7,3.65)(141,3.4)(142,3.25)(143.3,2.85)(144.5,2.7)(145.6,2.55)(146.8,2.45)(148,2.4)(149,1.8)(150.4,1.5)(151.6,1.4)(152.7,1.4)(153.9,1.3)(155.1,1.2)(156.2,1.2)(157,2.0)(158.3,2.15)(159.3,2.1)(160.5,2.35)(161.5,2.5)(162.8,2.6)(164,2.75)(165.1,2.85)(166.3,2.9)(167.5,3.1)(168.6,3.2)(169.9,2.95)(171,2.85)(172.2,3.15)(173.4,3.1)(174.6,3.15)(175.7,3.2)(177,3.25)(178.2,3.35)(179.3,3.3)(180.5,3.2)(181.7,2.35)(182.8,2.4)(184,2.45)(185.2,2.6)(186.3,2.55)(187.6,2.6)(188.8,2.5)(189.8,2.6)(191,2.65)(192.2,2.7)(193.4,2.75)(194.7,2.7)(195.9,2.75)(197,2.9)(198.2,2.8)(199.4,2.8)(200.5,2.75)(201.7,2.75)(203,2.6)(204.1,2.25)(205.3,2.25)(206.6,2.25)(207.7,2.2)(208.9,2.35)(210.1,2.1)(211.2,2.15)(212.4,2.0)(213.6,2.05)(214.7,2.25)(216,2.2)(217.2,2.35)(218.3,2.2)(219.5,2.25)(220.7,2.45)(221.8,2.35)(223,2.35)(224.2,2.4)(225.4,2.25)(226.6,2.15)(227.8,2.2)(228.9,2.25)(230.1,2.2)(231.3,2.15)(232.4,2.1)(233.7,2.2)(234.9,2.05)(236,1.95)(237.2,2.0)(238.4,1.9)(239.5,1.85)(240.7,1.95)(242,2.0)};
\addlegendentry{POT}
\addplot[rklt] coordinates {(1,6.4)(1.7,6.1)(2.6,6.05)(3.5,5.35)(4.4,4.55)(5.6,4.8)(6.8,4.8)(7.7,3.95)(8.5,4.45)(9.4,4.35)(10.3,4.3)(11.3,4.3)(12.1,4.3)(13,3.6)(14,4.3)(14.6,3.4)(15.5,3.25)(16.4,3.9)(17.2,3.5)(18.1,3.45)(19,3.25)(19.9,4.2)(20.7,3.15)(21.6,3.5)(22.6,3.5)(23.9,3.45)(25.2,3.35)(26.5,3.55)(27.7,3.45)(29,3.4)(30.3,3.4)(31.7,3.5)(33,3.6)(34,3.5)(35.2,3.45)(36.5,3.45)(37.8,3.4)(39,3.4)(40.4,3.35)(41.7,3.4)(43,3.35)(44.2,3.3)(45.6,3.35)(46.8,3.4)(47.9,3.3)(49.1,3.3)(50.3,3.4)(51.4,3.35)(52.6,3.3)(53.8,3.3)(55,3.35)(56.1,3.2)(57.3,3.3)(58.4,3.4)(59.6,3.45)(60.8,3.3)(61.9,3.2)(63,3.2)(64.2,3.15)(65.3,3.2)(66.6,3.15)(67.8,3.2)(68.8,3.2)(70,3.3)(71.2,3.2)(72.3,3.1)(73.5,3.1)(74.7,3.15)(75.8,3.05)(77,3.05)(78.2,3.0)(79.3,3.1)(80.5,3.15)(81.7,3.2)(82.8,3.2)(84,3.15)(85.2,3.2)(86.2,3.2)(87.5,3.15)(88.7,3.15)(89.7,3.15)(91,3.15)(92.2,3.1)(93.2,3.2)(94.4,3.1)(95.6,3.1)(96.6,3.05)(97.9,3.2)(99.1,3.1)(100.2,3.15)(101.4,3.1)(102.6,3.1)(103.6,3.15)(104.9,3.15)(106,3.1)(107.1,3.05)(108.4,3.15)(109.6,3.1)(111,3.1)(113,3.15)(115,3.15)(116.7,3.2)(118.4,3.15)(120.2,2.9)(122,3.0)(123.8,2.95)(125.5,3.0)(127.3,3.05)(129,3.0)(130.8,3.0)(132.6,3.05)(134.4,3.0)(136.2,2.95)(138,3.0)(139.7,3.15)(141.5,3.1)(143.3,3.05)(145,3.0)(146.8,3.0)(148.6,3.0)(150.4,2.95)(152.2,3.0)(153.9,3.0)(155.7,3.0)(157.4,3.0)(159.2,3.0)(161,2.95)(162.8,3.0)(164.5,2.95)(166.3,2.9)(168.1,2.95)(169.9,2.9)(171.6,2.8)(173.4,2.9)(175.2,2.85)(177,2.8)(178.8,2.85)(180.5,2.85)(182.3,2.8)(184,2.75)(185.8,2.8)(187.6,2.75)(189.4,2.75)(191,2.7)(192.9,2.7)(194.7,2.7)(196.5,2.65)(198.2,2.6)(200,2.6)(201.8,2.6)(203.5,2.55)(205.3,2.55)(207.1,2.55)(208.9,2.5)(210.6,2.5)(212.4,2.5)(214.2,2.45)(216,2.45)(217.7,2.4)(219.5,2.35)(221.3,2.25)(223,2.15)(224,2.0)(224.8,1.85)(226,1.7)(227.2,1.65)(228.4,1.6)(229.5,1.6)(230.6,1.55)(231.7,1.55)(232.4,1.2)(233.7,1.15)(234.9,1.05)(236,1.15)(237.2,1.0)(238.4,1.0)(239.5,0.75)(240.7,0.9)(242,0.9)};
\addlegendentry{rKLT}
\end{axis}
% ---------------- captions
\tikzset{capnode/.style={anchor=north west, inner sep=0pt, align=justify,
  font=\fontsize{19.7}{23}\selectfont}}
\newcommand{\capset}{\frenchspacing\hyphenpenalty=10000 \tolerance=10000 \hbadness=10000\relax}
\node[capnode, text width=568pt] at (7pt,452pt) {\capset(\textit{a})(\textit{i}) Global target bit-rate: 1 bpppc (calibrated AVIRIS-\linebreak Yellowstone03)};
\node[capnode, text width=525pt] at (603pt,452pt) {\capset(\textit{a})(\textit{ii}) Global target bit-rate: 1 bpppc (uncalibrated Hyperion-\linebreak Lake Monona)};
\node[capnode, text width=568pt] at (7pt,53pt) {\capset(\textit{b})(\textit{i}) Global target bit-rate: 3 bpppc (calibrated AVIRIS-\linebreak Yellowstone03)};
\node[capnode, text width=525pt] at (603pt,53pt) {\capset(\textit{b})(\textit{ii}) Global target bit-rate: 3 bpppc (uncalibrated Hyperion-\linebreak Lake Monona)};
\end{tikzpicture}
\end{document}
